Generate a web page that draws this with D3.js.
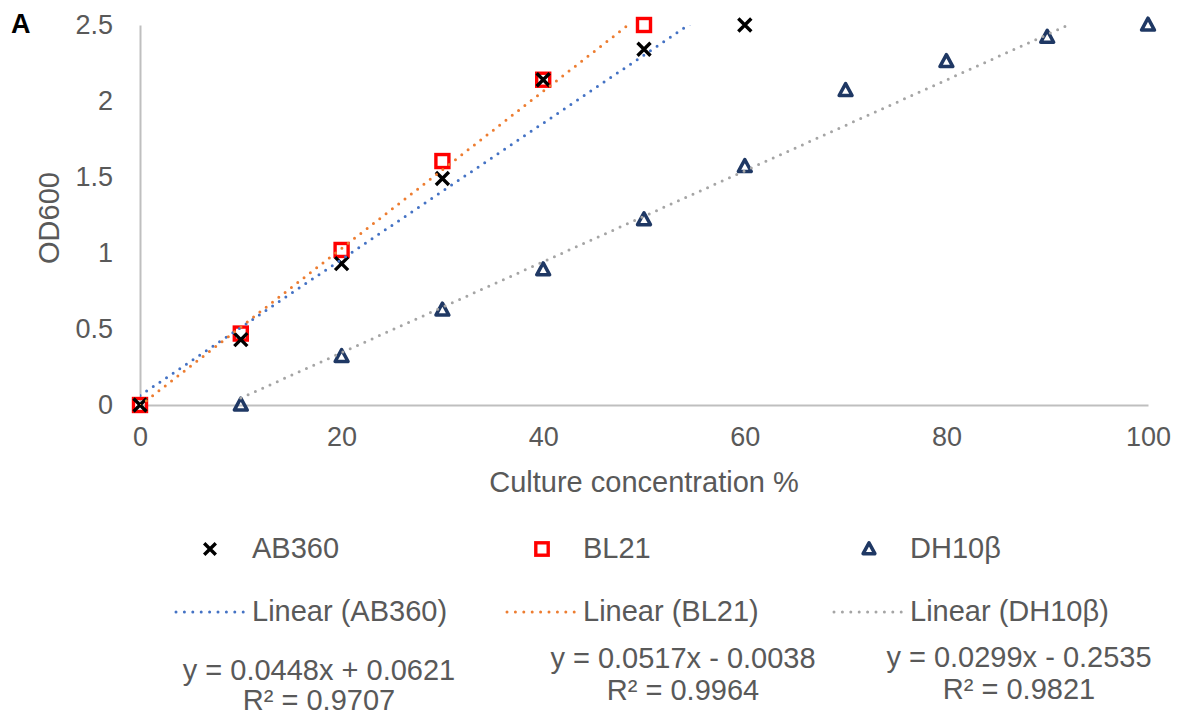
<!DOCTYPE html>
<html><head><meta charset="utf-8">
<script src="https://cdn.jsdelivr.net/npm/d3@7"></script>
<style>body{margin:0;background:#fff}text{font-family:"Liberation Sans",Arial,sans-serif}</style>
</head><body><svg id="c" width="1180" height="715"></svg>
<script>
const xTicks=[0,20,40,60,80,100];
const yTicks=[0,0.5,1,1.5,2,2.5];
const yTickLabels=["0","0.5","1","1.5","2","2.5"];
const seriesNames=["AB360","BL21","DH10β"];
const abX=[0,10,20,30,40,50,60];
const abY=[0,0.43,0.93,1.49,2.14,2.34,2.5];
const blX=[0,10,20,30,40,50];
const blY=[0,0.47,1.02,1.605,2.14,2.5];
const dhX=[10,20,30,40,50,60,70,80,90,100];
const dhY=[0,0.32,0.625,0.89,1.22,1.57,2.07,2.26,2.42,2.5];
const slopes=[0.0448,0.0517,0.0299];
const intercepts=[0.0621,-0.0038,-0.2535];
const eqTexts=["y = 0.0448x + 0.0621","y = 0.0517x - 0.0038","y = 0.0299x - 0.2535"];
const r2Texts=["R² = 0.9707","R² = 0.9964","R² = 0.9821"];

const svg=d3.select("#c");
const x=d3.scaleLinear().domain([0,100]).range([140,1148]);
const y=d3.scaleLinear().domain([0,2.5]).range([405,25]);
const grey="#595959", axisC="#bfbfbf";
const trendC=["#4472c4","#ed7d31","#a5a5a5"];
const markC=["#000000","#ff0000","#1f3864"];

svg.append("text").attr("x",11).attr("y",33).attr("font-size",27).attr("font-weight","bold").attr("fill","#000").text("A");

// axes
const yAxis=d3.axisLeft(y).tickValues(yTicks).tickFormat((d,i)=>yTickLabels[i]).tickSize(0).tickPadding(27);
const gy=svg.append("g").attr("transform","translate(140,0)").call(yAxis);
gy.select(".domain").attr("stroke",axisC).attr("stroke-width",2);
gy.selectAll("text").attr("font-size",27).attr("fill",grey).attr("font-family","Liberation Sans");
const xAxis=d3.axisBottom(x).tickValues(xTicks).tickSize(0).tickPadding(22);
const gx=svg.append("g").attr("transform","translate(0,405)").call(xAxis);
gx.select(".domain").attr("stroke",axisC).attr("stroke-width",2);
gx.selectAll("text").attr("font-size",27).attr("fill",grey).attr("font-family","Liberation Sans");

svg.append("text").attr("x",644).attr("y",492).attr("text-anchor","middle").attr("font-size",29).attr("fill",grey).text("Culture concentration %");
svg.append("text").attr("transform","translate(59,218) rotate(-90)").attr("text-anchor","middle").attr("font-size",29).attr("fill",grey).text("OD600");

// clip
svg.append("clipPath").attr("id","pc").append("rect").attr("x",140).attr("y",y(2.5)).attr("width",1008).attr("height",y(0)-y(2.5));

function markX(g,cx,cy,r){g.append("path").attr("d",`M${cx-r},${cy-r}L${cx+r},${cy+r}M${cx-r},${cy+r}L${cx+r},${cy-r}`).attr("stroke",markC[0]).attr("stroke-width",3.4).attr("fill","none");}
function markS(g,cx,cy,h){g.append("rect").attr("x",cx-h).attr("y",cy-h).attr("width",2*h).attr("height",2*h).attr("stroke",markC[1]).attr("stroke-width",3.4).attr("fill","none");}
function markT(g,cx,cy,h){g.append("path").attr("d",`M${cx},${cy-h}L${cx+h*0.95},${cy+h*0.75}L${cx-h*0.95},${cy+h*0.75}Z`).attr("stroke",markC[2]).attr("stroke-width",3.5).attr("stroke-linejoin","round").attr("fill","none");}

const mg=svg.append("g");
blX.forEach((v,i)=>markS(mg,x(v),y(blY[i]),6.5));
abX.forEach((v,i)=>markX(mg,x(v),y(abY[i]),6.5));
dhX.forEach((v,i)=>markT(mg,x(v),y(dhY[i]),6.8));

// trendlines
const xs=[abX,blX,dhX];
const tg=svg.append("g").attr("clip-path","url(#pc)");
xs.forEach((arr,k)=>{
  const x0=d3.min(arr),x1=d3.max(arr);
  tg.append("line").attr("x1",x(x0)).attr("y1",y(slopes[k]*x0+intercepts[k]))
    .attr("x2",x(x1)).attr("y2",y(slopes[k]*x1+intercepts[k]))
    .attr("stroke",trendC[k]).attr("stroke-width",3).attr("stroke-linecap","round").attr("stroke-dasharray","0 8");
});

// legend
const lg=svg.append("g");
const mx=[210,542,869], tx=[252,583,910];
markX(lg,mx[0],549,5.8); markS(lg,mx[1],549,6.2); markT(lg,mx[2],549,6.2);
seriesNames.forEach((n,k)=>{
  lg.append("text").attr("x",tx[k]).attr("y",558).attr("font-size",29).attr("fill",grey).text(n);
  lg.append("line").attr("x1",tx[k]-76).attr("x2",tx[k]-8).attr("y1",612).attr("y2",612)
    .attr("stroke",trendC[k]).attr("stroke-width",3).attr("stroke-linecap","round").attr("stroke-dasharray","0 8.4");
  lg.append("text").attr("x",tx[k]).attr("y",621).attr("font-size",29).attr("fill",grey).text("Linear ("+n+")");
});
const ecx=[319,683,1019], eb=[680,668,667], rb=[710,700,699];
eqTexts.forEach((t,k)=>{
  lg.append("text").attr("x",ecx[k]).attr("y",eb[k]).attr("text-anchor","middle").attr("font-size",29).attr("fill",grey).text(t);
  lg.append("text").attr("x",ecx[k]).attr("y",rb[k]).attr("text-anchor","middle").attr("font-size",29).attr("fill",grey).text(r2Texts[k]);
});
</script></body></html>
